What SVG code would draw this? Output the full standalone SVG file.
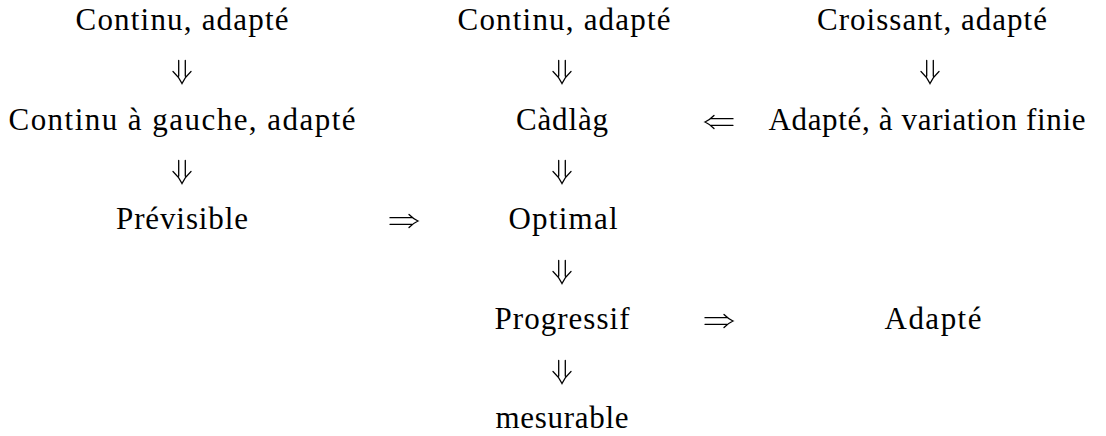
<svg xmlns="http://www.w3.org/2000/svg" width="1106" height="436" viewBox="0 0 1106 436">
  <style>
    text { font-family: 'Liberation Serif', 'DejaVu Serif', 'Times New Roman', serif; font-size: 31px; fill: #000; text-anchor: middle; }
    .arr { fill: none; stroke: #000; stroke-width: 1.3; stroke-linecap: round; }
  </style>
  <defs>
    <g id="down">
      <path class="arr" d="M -3.3 -11.5 V 4 M 3.3 -11.5 V 4 M -9 -0.5 Q -3 5 0 11.5 Q 3 5 9 -0.5"/>
    </g>
    <g id="right">
      <path class="arr" d="M -14 -3.3 H 8 M -14 3.3 H 8 M 5 -6.5 Q 9.5 -2 14 0 Q 9.5 2 5 6.5"/>
    </g>
  </defs>
  <rect width="1106" height="436" fill="#fff"/>

  <g font-family="Liberation Serif, serif">
  <g id="n-continu-adapte-1"><text x="182" y="30" textLength="213" lengthAdjust="spacing">Continu, adapté</text></g>
  <g id="n-continu-gauche"><text x="182" y="130" textLength="347" lengthAdjust="spacing">Continu à gauche, adapté</text></g>
  <g id="n-previsible"><text x="182" y="229" textLength="132" lengthAdjust="spacing">Prévisible</text></g>

  <g id="n-continu-adapte-2"><text x="564" y="30" textLength="213" lengthAdjust="spacing">Continu, adapté</text></g>
  <g id="n-cadlag"><text x="562" y="130" textLength="92" lengthAdjust="spacing">Càdlàg</text></g>
  <g id="n-optimal"><text x="563" y="229" textLength="109" lengthAdjust="spacing">Optimal</text></g>
  <g id="n-progressif"><text x="562" y="329" textLength="135" lengthAdjust="spacing">Progressif</text></g>
  <g id="n-mesurable"><text x="562" y="428" textLength="133" lengthAdjust="spacing">mesurable</text></g>

  <g id="n-croissant"><text x="932" y="30" textLength="230" lengthAdjust="spacing">Croissant, adapté</text></g>
  <g id="n-variation-finie"><text x="927" y="130" textLength="317" lengthAdjust="spacing">Adapté, à variation finie</text></g>
  <g id="n-adapte"><text x="933" y="329" textLength="97" lengthAdjust="spacing">Adapté</text></g>
  </g>

  <g id="connectors">
    <use href="#down" transform="translate(182,72)"/>
    <use href="#down" transform="translate(182,172)"/>
    <use href="#down" transform="translate(562,72)"/>
    <use href="#down" transform="translate(562,172)"/>
    <use href="#down" transform="translate(562,272)"/>
    <use href="#down" transform="translate(562,372)"/>
    <use href="#down" transform="translate(930,72)"/>
    <use href="#right" transform="translate(719,122) rotate(180)"/>
    <use href="#right" transform="translate(404,221)"/>
    <use href="#right" transform="translate(719,321)"/>
  </g>
</svg>
